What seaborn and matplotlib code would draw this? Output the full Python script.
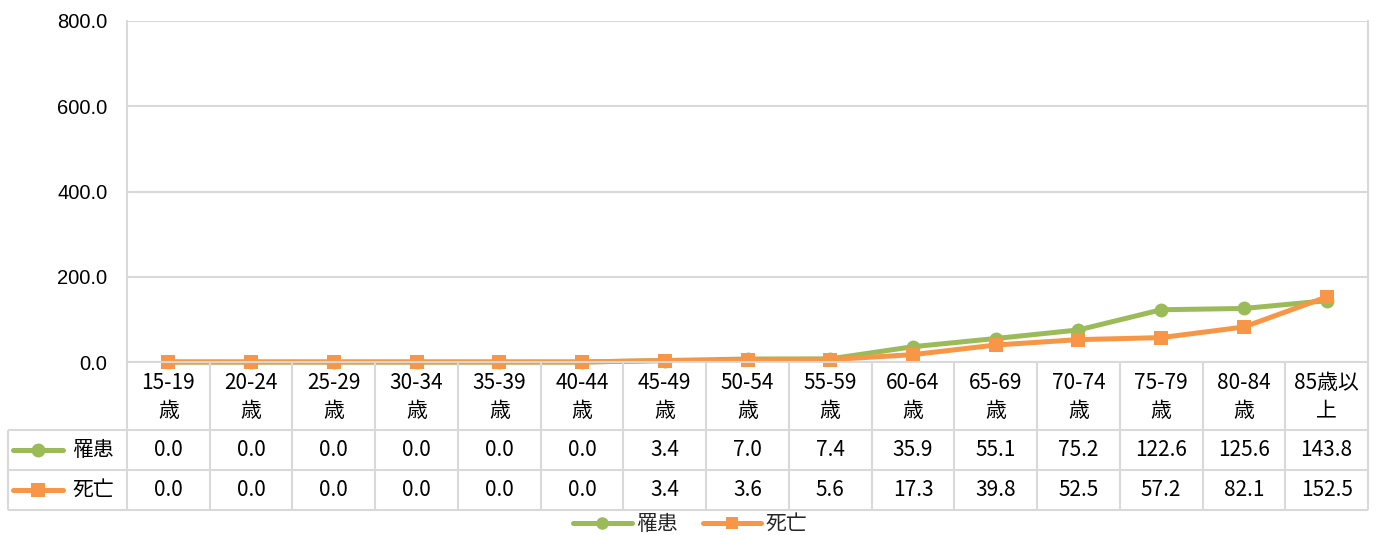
import numpy as np
import pandas as pd
import matplotlib
matplotlib.use("Agg")
import matplotlib.pyplot as plt
from matplotlib.lines import Line2D
import seaborn as sns

categories = ["15-19歳", "20-24歳", "25-29歳", "30-34歳", "35-39歳", "40-44歳", "45-49歳",
              "50-54歳", "55-59歳", "60-64歳", "65-69歳", "70-74歳", "75-79歳", "80-84歳", "85歳以上"]
incidence = [0.0, 0.0, 0.0, 0.0, 0.0, 0.0, 3.4, 7.0, 7.4, 35.9, 55.1, 75.2, 122.6, 125.6, 143.8]
mortality = [0.0, 0.0, 0.0, 0.0, 0.0, 0.0, 3.4, 3.6, 5.6, 17.3, 39.8, 52.5, 57.2, 82.1, 152.5]
series_names = ["罹患", "死亡"]
y_ticks = [0, 200, 400, 600, 800]

GREEN = "#9BBB59"
ORANGE = "#F79646"
GRID = "#D9D9D9"
JP = ["Noto Sans CJK JP", "DejaVu Sans"]
FS = 15

sns.set_theme(style="white")
plt.rcParams["font.family"] = JP

W, H = 1387, 535
fig = plt.figure(figsize=(W / 100, H / 100), dpi=100)

ax_l, ax_r, ax_t, ax_b = 127, 1368, 21, 362
tab_b = 510
ax = fig.add_axes([ax_l / W, 1 - ax_b / H, (ax_r - ax_l) / W, (ax_b - ax_t) / H])

n = len(categories)
df = pd.DataFrame({
    "pos": list(range(n)) * 2,
    "value": incidence + mortality,
    "series": [series_names[0]] * n + [series_names[1]] * n,
})
sns.lineplot(data=df, x="pos", y="value", hue="series", style="series",
             hue_order=series_names, style_order=series_names,
             palette={series_names[0]: GREEN, series_names[1]: ORANGE},
             markers={series_names[0]: "o", series_names[1]: "s"}, dashes=False,
             linewidth=3.6, markersize=10, markeredgewidth=0, legend=False,
             sort=False, clip_on=False, ax=ax)

ax.set_xlim(-0.5, n - 0.5)
ax.set_ylim(0, 800)
ax.set_yticks(y_ticks)
ax.set_yticklabels([f"{v:.1f}" for v in y_ticks], fontsize=14.5,
                   family=["Liberation Sans", "DejaVu Sans"], color="black")
ax.set_xticks([])
ax.set_xlabel("")
ax.set_ylabel("")
ax.tick_params(axis="y", length=0, pad=14)
ax.grid(axis="y", color=GRID, linewidth=1.5)
ax.set_axisbelow(True)
ax.spines["top"].set_visible(False)
for s in ["left", "right", "bottom"]:
    ax.spines[s].set_color(GRID)
    ax.spines[s].set_linewidth(1.5)

# data table
col_w = (ax_r - ax_l) / n
tab_left = 8
left_ext = (ax_l - tab_left) / col_w
tax = fig.add_axes([tab_left / W, 1 - tab_b / H, (ax_r - tab_left) / W, (tab_b - ax_b) / H])
tax.set_xlim(-0.5 - left_ext, n - 0.5)
header_h, row_h = 68, 40
total_h = header_h + 2 * row_h
tax.set_ylim(total_h, 0)
tax.axis("off")

lk = dict(color=GRID, linewidth=1.5, solid_capstyle="butt", clip_on=False)
for i in range(n + 1):
    tax.plot([i - 0.5, i - 0.5], [0, total_h], **lk)
for yy in [header_h, header_h + row_h, total_h]:
    tax.plot([-0.5 - left_ext, n - 0.5], [yy, yy], **lk)
tax.plot([-0.5 - left_ext, -0.5 - left_ext], [header_h, total_h], **lk)

for i, c in enumerate(categories):
    tax.text(i, header_h / 2 + 1, c[:-1] + "\n" + c[-1], ha="center", va="center",
             fontsize=FS, linespacing=1.3, family=JP, color="black")

for r, (vals, name, col, mk) in enumerate(zip([incidence, mortality], series_names,
                                                [GREEN, ORANGE], ["o", "s"])):
    yc = header_h + row_h * r + row_h / 2
    for i, v in enumerate(vals):
        tax.text(i, yc, f"{v:.1f}", ha="center", va="center", fontsize=FS, family=JP, color="black")
    x0 = -0.5 - left_ext
    px = lambda p: x0 + p / col_w
    tax.plot([px(5), px(55)], [yc, yc], color=col, linewidth=3.6, solid_capstyle="round", clip_on=False)
    tax.plot([px(30)], [yc], marker=mk, color=col, markersize=10, markeredgewidth=0, clip_on=False)
    tax.text(px(64), yc, name, ha="left", va="center", fontsize=FS, family=JP, color="black")

handles = [Line2D([], [], color=GREEN, linewidth=3.6, marker="o", markersize=9, markeredgewidth=0),
           Line2D([], [], color=ORANGE, linewidth=3.6, marker="s", markersize=9, markeredgewidth=0)]
fig.legend(handles, series_names, loc="center", bbox_to_anchor=(690 / W, 1 - 524 / H), ncol=2,
           frameon=False, handlelength=2.8, handletextpad=0.2, columnspacing=1.2,
           borderpad=0, prop={"family": JP, "size": FS})

fig.savefig("out.png", dpi=100, facecolor="white")
